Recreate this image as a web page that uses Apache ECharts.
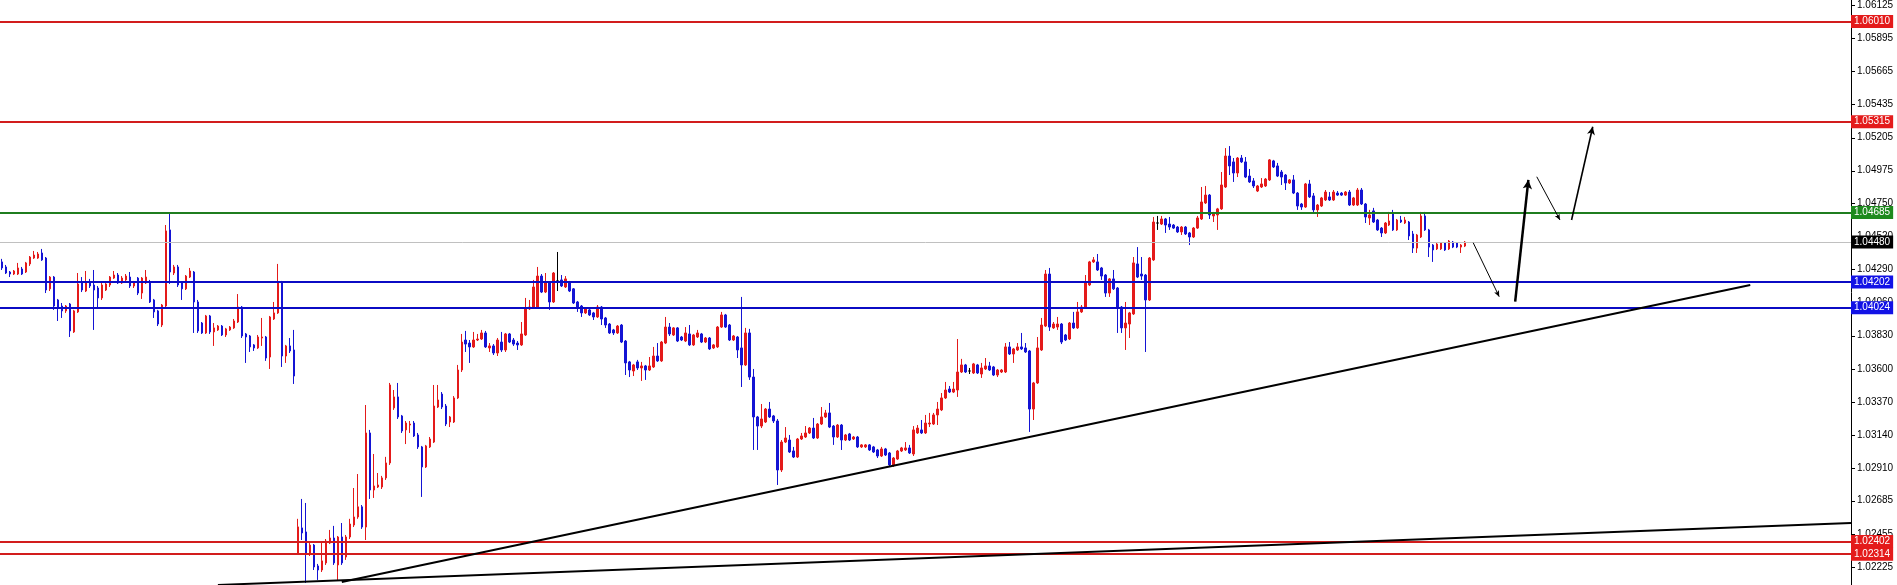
<!DOCTYPE html>
<html><head><meta charset="utf-8">
<script src="https://cdn.jsdelivr.net/npm/echarts@6/dist/echarts.min.js"></script>
<style>html,body{margin:0;padding:0;background:#fff}#c{width:1897px;height:585px}</style>
</head><body><div id="c"></div>
<script>
const opens=[1.04342,1.04307,1.04272,1.04258,1.04258,1.04293,1.04272,1.04328,1.04369,1.04369,
1.04404,1.04369,1.04155,1.04237,1.04078,1.04036,1.04002,1.04050,1.03856,1.03995,
1.04196,1.04140,1.04203,1.04182,1.04161,1.04092,1.04147,1.04182,1.04230,1.04251,
1.04196,1.04217,1.04237,1.04175,1.04230,1.04126,1.04196,1.04203,1.04078,1.04002,
1.03904,1.04036,1.04564,1.04265,1.04307,1.04196,1.04155,1.04237,1.04272,1.04064,
1.03918,1.03849,1.03967,1.03856,1.03870,1.03897,1.03835,1.03870,1.03884,1.03925,
1.04029,1.03842,1.03828,1.03766,1.03745,1.03814,1.03821,1.03682,1.03946,1.03988,
1.04203,1.03689,1.03759,1.03731,1.02322,1.02496,1.02468,1.02315,1.02377,1.02232,
1.02204,1.02253,1.02391,1.02426,1.02239,1.02433,1.02294,1.02433,1.02516,1.02572,
1.02642,1.02502,1.03155,1.02759,1.02780,1.02780,1.02843,1.02947,1.03329,1.03405,
1.03273,1.03176,1.03210,1.03224,1.03141,1.03058,1.02919,1.03058,1.03092,1.03335,
1.03425,1.03342,1.03231,1.03231,1.03398,1.03592,1.03800,1.03779,1.03752,1.03800,
1.03807,1.03849,1.03745,1.03759,1.03710,1.03786,1.03731,1.03842,1.03800,1.03779,
1.03766,1.03835,1.04016,1.04022,1.04029,1.04244,1.04133,1.04196,1.04064,1.04210,
1.04217,1.04168,1.04196,1.04155,1.04064,1.04036,1.03988,1.04009,1.03988,1.03960,
1.04029,1.03953,1.03911,1.03870,1.03849,1.03904,1.03793,1.03648,1.03585,1.03648,
1.03606,1.03620,1.03592,1.03613,1.03689,1.03655,1.03779,1.03890,1.03835,1.03884,
1.03821,1.03793,1.03842,1.03766,1.03821,1.03842,1.03786,1.03814,1.03745,1.03752,
1.03890,1.03974,1.03904,1.03800,1.03821,1.03745,1.03627,1.03849,1.03543,1.03266,
1.03203,1.03231,1.03321,1.03273,1.03238,1.02898,1.03092,1.03106,1.03030,1.02988,
1.03113,1.03127,1.03155,1.03189,1.03120,1.03217,1.03266,1.03294,1.03203,1.03127,
1.03210,1.03106,1.03148,1.03113,1.03127,1.03058,1.03058,1.03072,1.03058,1.03037,
1.02995,1.03044,1.03016,1.02933,1.02974,1.03030,1.03037,1.03051,1.03009,1.03155,
1.03176,1.03155,1.03217,1.03217,1.03280,1.03315,1.03398,1.03460,1.03439,1.03453,
1.03578,1.03627,1.03585,1.03571,1.03627,1.03564,1.03599,1.03620,1.03613,1.03557,
1.03578,1.03578,1.03752,1.03703,1.03731,1.03752,1.03745,1.03724,1.03321,1.03502,
1.03731,1.03897,1.04258,1.03884,1.03890,1.03911,1.03835,1.03807,1.03918,1.03884,
1.03995,1.04029,1.04182,1.04342,1.04342,1.04300,1.04251,1.04126,1.04224,1.04161,
1.04029,1.03884,1.03911,1.03981,1.04328,1.04258,1.04251,1.04078,1.04356,1.04612,
1.04605,1.04640,1.04605,1.04598,1.04584,1.04550,1.04584,1.04543,1.04515,1.04577,
1.04640,1.04751,1.04806,1.04661,1.04668,1.04710,1.04862,1.05077,1.05036,1.04959,
1.05063,1.05036,1.04938,1.04904,1.04834,1.04862,1.04869,1.04911,1.05043,1.05008,
1.04966,1.04945,1.04890,1.04911,1.04820,1.04744,1.04723,1.04883,1.04800,1.04703,
1.04730,1.04772,1.04793,1.04772,1.04820,1.04820,1.04806,1.04827,1.04737,1.04737,
1.04841,1.04744,1.04647,1.04696,1.04633,1.04577,1.04543,1.04598,1.04682,1.04564,
1.04633,1.04612,1.04619,1.04536,1.04438,1.04515,1.04661,1.04564,1.04459,1.04432,
1.04432,1.04473,1.04432,1.04480,1.04473,1.04445,1.04452];
const closes=[1.04300,1.04265,1.04258,1.04279,1.04300,1.04258,1.04335,1.04376,1.04390,1.04397,
1.04356,1.04147,1.04237,1.04036,1.04029,1.04002,1.04036,1.03863,1.04002,1.04189,
1.04147,1.04203,1.04175,1.04147,1.04092,1.04182,1.04189,1.04237,1.04251,1.04196,
1.04230,1.04244,1.04175,1.04196,1.04126,1.04230,1.04237,1.04064,1.03995,1.03911,
1.04043,1.04557,1.04272,1.04307,1.04182,1.04155,1.04244,1.04279,1.04064,1.03863,
1.03849,1.03967,1.03856,1.03884,1.03897,1.03835,1.03877,1.03890,1.03932,1.04029,
1.03828,1.03821,1.03752,1.03745,1.03821,1.03821,1.03675,1.03960,1.03988,1.04203,
1.03689,1.03759,1.03724,1.03550,1.02503,1.02461,1.02315,1.02377,1.02225,1.02204,
1.02267,1.02405,1.02426,1.02253,1.02433,1.02253,1.02433,1.02523,1.02572,1.02642,
1.02502,1.03155,1.02759,1.02787,1.02794,1.02843,1.02947,1.03488,1.03405,1.03266,
1.03169,1.03224,1.03217,1.03134,1.03058,1.02919,1.03065,1.03113,1.03342,1.03384,
1.03335,1.03217,1.03266,1.03398,1.03592,1.03786,1.03772,1.03752,1.03800,1.03807,
1.03849,1.03752,1.03759,1.03710,1.03800,1.03731,1.03842,1.03786,1.03772,1.03766,
1.03842,1.04022,1.04029,1.04168,1.04244,1.04133,1.04196,1.04064,1.04265,1.04210,
1.04175,1.04224,1.04140,1.04057,1.04029,1.03988,1.04016,1.03974,1.03960,1.04029,
1.03946,1.03904,1.03849,1.03849,1.03897,1.03786,1.03641,1.03592,1.03627,1.03606,
1.03620,1.03592,1.03620,1.03689,1.03655,1.03786,1.03890,1.03842,1.03884,1.03793,
1.03800,1.03849,1.03766,1.03835,1.03849,1.03786,1.03814,1.03738,1.03766,1.03890,
1.03974,1.03890,1.03800,1.03828,1.03731,1.03627,1.03849,1.03543,1.03266,1.03203,
1.03252,1.03321,1.03266,1.03238,1.02898,1.03092,1.03120,1.03023,1.02988,1.03113,
1.03134,1.03155,1.03189,1.03120,1.03217,1.03266,1.03294,1.03196,1.03127,1.03210,
1.03106,1.03141,1.03106,1.03127,1.03058,1.03072,1.03072,1.03037,1.03023,1.02995,
1.03044,1.03002,1.02933,1.02981,1.03030,1.03051,1.03051,1.03016,1.03176,1.03189,
1.03155,1.03224,1.03224,1.03280,1.03321,1.03398,1.03453,1.03439,1.03460,1.03578,
1.03627,1.03578,1.03585,1.03634,1.03571,1.03606,1.03620,1.03592,1.03557,1.03592,
1.03592,1.03752,1.03703,1.03738,1.03752,1.03738,1.03717,1.03321,1.03502,1.03745,
1.03904,1.04258,1.03890,1.03911,1.03911,1.03786,1.03800,1.03918,1.03884,1.03995,
1.04029,1.04196,1.04342,1.04356,1.04286,1.04244,1.04126,1.04224,1.04155,1.04022,
1.03884,1.03918,1.03988,1.04335,1.04237,1.04244,1.04078,1.04369,1.04619,1.04612,
1.04640,1.04598,1.04584,1.04577,1.04550,1.04584,1.04536,1.04515,1.04577,1.04647,
1.04758,1.04806,1.04668,1.04675,1.04710,1.04876,1.05077,1.05008,1.04959,1.05063,
1.05036,1.04931,1.04897,1.04869,1.04869,1.04883,1.04917,1.05050,1.05001,1.04938,
1.04931,1.04890,1.04911,1.04820,1.04730,1.04723,1.04883,1.04793,1.04703,1.04737,
1.04786,1.04827,1.04772,1.04827,1.04806,1.04806,1.04827,1.04737,1.04786,1.04841,
1.04744,1.04654,1.04668,1.04619,1.04564,1.04543,1.04612,1.04626,1.04564,1.04633,
1.04619,1.04633,1.04522,1.04438,1.04529,1.04661,1.04564,1.04445,1.04425,1.04466,
1.04473,1.04425,1.04487,1.04445,1.04445,1.04459,1.04480];
const lows=[1.04286,1.04258,1.04237,1.04251,1.04251,1.04251,1.04265,1.04314,1.04363,1.04363,
1.04349,1.04126,1.04140,1.04009,1.03932,1.03953,1.03988,1.03821,1.03849,1.03988,
1.04133,1.04133,1.04161,1.03870,1.04029,1.04078,1.04140,1.04168,1.04224,1.04189,
1.04189,1.04210,1.04161,1.04161,1.04112,1.04085,1.04189,1.04057,1.03953,1.03897,
1.03890,1.04029,1.04189,1.04251,1.04168,1.04078,1.04147,1.04230,1.03849,1.03849,
1.03842,1.03842,1.03842,1.03759,1.03863,1.03828,1.03821,1.03863,1.03877,1.03918,
1.03814,1.03641,1.03717,1.03724,1.03738,1.03759,1.03655,1.03599,1.03939,1.03981,
1.03613,1.03641,1.03710,1.03495,1.02308,1.02412,1.02114,1.02301,1.02204,1.02135,
1.02190,1.02239,1.02384,1.02239,1.02135,1.02239,1.02274,1.02419,1.02502,1.02559,
1.02489,1.02412,1.02697,1.02704,1.02773,1.02766,1.02829,1.02933,1.03315,1.03252,
1.03155,1.03078,1.03155,1.03127,1.03044,1.02711,1.02912,1.03051,1.03085,1.03328,
1.03321,1.03203,1.03196,1.03224,1.03391,1.03578,1.03717,1.03641,1.03745,1.03793,
1.03800,1.03745,1.03717,1.03696,1.03689,1.03717,1.03717,1.03779,1.03759,1.03731,
1.03759,1.03828,1.04009,1.04016,1.04022,1.04126,1.04126,1.04009,1.04057,1.04140,
1.04168,1.04161,1.04133,1.04050,1.03995,1.03960,1.03981,1.03967,1.03939,1.03953,
1.03904,1.03884,1.03842,1.03835,1.03842,1.03779,1.03557,1.03543,1.03550,1.03592,
1.03516,1.03523,1.03585,1.03606,1.03648,1.03648,1.03772,1.03828,1.03828,1.03786,
1.03793,1.03786,1.03759,1.03759,1.03814,1.03779,1.03779,1.03731,1.03738,1.03745,
1.03884,1.03884,1.03793,1.03793,1.03675,1.03474,1.03620,1.03523,1.03037,1.03037,
1.03189,1.03224,1.03259,1.03224,1.02794,1.02884,1.03085,1.03016,1.02981,1.02981,
1.03106,1.03120,1.03148,1.03113,1.03113,1.03210,1.03259,1.03189,1.03072,1.03120,
1.03037,1.03099,1.03099,1.03106,1.03051,1.03051,1.03051,1.03030,1.03016,1.02981,
1.02988,1.02995,1.02919,1.02919,1.02968,1.03023,1.03030,1.03009,1.02995,1.03148,
1.03148,1.03148,1.03196,1.03210,1.03210,1.03307,1.03391,1.03432,1.03432,1.03405,
1.03571,1.03571,1.03564,1.03564,1.03564,1.03537,1.03592,1.03585,1.03550,1.03543,
1.03571,1.03571,1.03696,1.03641,1.03724,1.03731,1.03710,1.03162,1.03245,1.03495,
1.03724,1.03890,1.03863,1.03877,1.03870,1.03772,1.03793,1.03800,1.03877,1.03877,
1.03988,1.04022,1.04175,1.04335,1.04279,1.04217,1.04099,1.04099,1.04147,1.03849,
1.03849,1.03731,1.03814,1.03974,1.04230,1.04217,1.03717,1.04071,1.04349,1.04564,
1.04598,1.04543,1.04564,1.04571,1.04543,1.04529,1.04529,1.04459,1.04508,1.04571,
1.04633,1.04744,1.04640,1.04619,1.04564,1.04703,1.04855,1.04945,1.04897,1.04931,
1.05029,1.04924,1.04890,1.04855,1.04827,1.04855,1.04862,1.04904,1.04994,1.04931,
1.04876,1.04841,1.04883,1.04813,1.04703,1.04703,1.04717,1.04786,1.04682,1.04654,
1.04723,1.04765,1.04765,1.04765,1.04800,1.04800,1.04800,1.04730,1.04730,1.04730,
1.04737,1.04612,1.04598,1.04612,1.04557,1.04515,1.04536,1.04591,1.04557,1.04557,
1.04612,1.04605,1.04494,1.04404,1.04404,1.04508,1.04557,1.04376,1.04342,1.04425,
1.04425,1.04418,1.04425,1.04438,1.04438,1.04404,1.04445];
const highs=[1.04363,1.04321,1.04279,1.04286,1.04335,1.04307,1.04342,1.04383,1.04418,1.04411,
1.04432,1.04376,1.04244,1.04244,1.04085,1.04057,1.04043,1.04057,1.04009,1.04265,
1.04237,1.04279,1.04224,1.04286,1.04175,1.04196,1.04203,1.04244,1.04279,1.04265,
1.04244,1.04258,1.04272,1.04210,1.04237,1.04237,1.04286,1.04217,1.04085,1.04009,
1.04050,1.04598,1.04675,1.04321,1.04321,1.04203,1.04251,1.04300,1.04279,1.04078,
1.03925,1.03974,1.03974,1.03918,1.03904,1.03904,1.03884,1.03897,1.03946,1.04119,
1.04036,1.03849,1.03835,1.03772,1.03835,1.03953,1.03828,1.03967,1.04064,1.04328,
1.04210,1.03766,1.03814,1.03870,1.02559,1.02697,1.02669,1.02391,1.02384,1.02246,
1.02391,1.02419,1.02482,1.02510,1.02440,1.02530,1.02447,1.02559,1.02773,1.02870,
1.02655,1.03349,1.03176,1.03009,1.02877,1.02857,1.02989,1.03502,1.03453,1.03502,
1.03280,1.03238,1.03238,1.03238,1.03155,1.03065,1.03072,1.03127,1.03488,1.03488,
1.03439,1.03356,1.03273,1.03411,1.03627,1.03842,1.03863,1.03800,1.03856,1.03842,
1.03870,1.03863,1.03779,1.03772,1.03814,1.03856,1.03849,1.03849,1.03814,1.03793,
1.03925,1.04092,1.04078,1.04217,1.04307,1.04258,1.04265,1.04203,1.04272,1.04411,
1.04251,1.04244,1.04210,1.04161,1.04071,1.04043,1.04022,1.04022,1.03995,1.04043,
1.04036,1.03960,1.03918,1.03877,1.03904,1.03911,1.03800,1.03655,1.03634,1.03662,
1.03648,1.03627,1.03682,1.03752,1.03779,1.03793,1.03960,1.03918,1.03890,1.03890,
1.03828,1.03890,1.03904,1.03842,1.03870,1.03849,1.03821,1.03821,1.03772,1.03897,
1.03995,1.03981,1.03911,1.03835,1.03828,1.04099,1.03884,1.03877,1.03599,1.03273,
1.03356,1.03328,1.03370,1.03280,1.03252,1.03106,1.03196,1.03141,1.03058,1.03120,
1.03155,1.03203,1.03196,1.03259,1.03224,1.03335,1.03315,1.03363,1.03210,1.03217,
1.03217,1.03148,1.03155,1.03134,1.03134,1.03078,1.03078,1.03078,1.03065,1.03044,
1.03058,1.03051,1.03023,1.02988,1.03037,1.03058,1.03092,1.03072,1.03203,1.03210,
1.03245,1.03280,1.03294,1.03294,1.03370,1.03432,1.03509,1.03481,1.03509,1.03807,
1.03669,1.03634,1.03606,1.03641,1.03634,1.03641,1.03675,1.03648,1.03620,1.03599,
1.03599,1.03779,1.03786,1.03745,1.03779,1.03849,1.03779,1.03731,1.03509,1.03821,
1.03953,1.04286,1.04300,1.03925,1.03960,1.03918,1.03842,1.03925,1.03995,1.04064,
1.04043,1.04251,1.04349,1.04376,1.04397,1.04307,1.04258,1.04230,1.04286,1.04168,
1.04036,1.04064,1.03995,1.04376,1.04445,1.04376,1.04258,1.04376,1.04654,1.04661,
1.04661,1.04647,1.04654,1.04605,1.04591,1.04591,1.04591,1.04550,1.04584,1.04661,
1.04862,1.04869,1.04813,1.04689,1.04717,1.04966,1.05132,1.05146,1.05063,1.05070,
1.05084,1.05070,1.04987,1.04924,1.04876,1.04924,1.04924,1.05056,1.05050,1.05029,
1.04980,1.04952,1.04917,1.04945,1.04827,1.04751,1.04890,1.04911,1.04820,1.04744,
1.04793,1.04841,1.04827,1.04841,1.04834,1.04827,1.04834,1.04841,1.04793,1.04855,
1.04855,1.04751,1.04703,1.04717,1.04640,1.04584,1.04619,1.04689,1.04703,1.04640,
1.04661,1.04654,1.04626,1.04557,1.04536,1.04689,1.04689,1.04571,1.04466,1.04473,
1.04480,1.04480,1.04494,1.04487,1.04480,1.04466,1.04487];

const tickLabels=[1.06125,1.05895,1.05665,1.05435,1.05205,1.04975,1.04750,1.04520,1.04290,1.04060,1.03830,1.03600,1.03370,1.03140,1.02910,1.02685,1.02455,1.02225];
const levelPrices=[1.06010,1.05315,1.04685,1.04202,1.04024,1.02402,1.02314];
const levelKinds=['red','red','green','blue','blue','red','red'];
const currentPrice=1.04480;
const totalSlots=463;
const trendLowerA=[[54.0,1.02100],[462.5,1.02530]];
const trendUpperA=[[85.0,1.02121],[437.3,1.04182]];
const arrowsThin=[[[368.0,1.04475],[374.5,1.04101]],[[383.9,1.04933],[389.7,1.04633]]];
const arrowsThick=[[[378.5,1.04066],[381.8,1.04911]]];
const arrowsMid=[[[392.6,1.04633],[397.9,1.05280]]];

const kindStyle={red:{line:'#d21d1d',tag:'#e41b1b'},green:{line:'#1f7d1f',tag:'#1e8a1e'},blue:{line:'#0b0bc4',tag:'#1212e6'}};
const slots=Array.from({length:totalSlots},(_,i)=>String(i));
const candleData=opens.map((o,i)=>[o,closes[i],lows[i],highs[i]]);
const fmt=v=>Number(v).toFixed(5);
const FONT='Liberation Sans, Arial, sans-serif';
const tagLabel=(bg)=>({show:true,position:'end',distance:0,formatter:p=>fmt(p.value),color:'#fff',backgroundColor:bg,padding:[2,3,1,3],fontSize:10,fontFamily:FONT});

const levelData=levelPrices.map((p,i)=>({yAxis:p,lineStyle:{color:kindStyle[levelKinds[i]].line,width:2,type:'solid'},label:tagLabel(kindStyle[levelKinds[i]].tag)}));

const arrowLine=(pairs,width,size)=>({type:'line',xAxisIndex:1,yAxisIndex:0,data:[],silent:true,z:6,
  markLine:{silent:true,animation:false,precision:5,symbol:['none','arrow'],symbolSize:size,label:{show:false},
    lineStyle:{color:'#000',width:width,type:'solid'},emphasis:{disabled:true},
    data:pairs.map(pr=>[{coord:pr[0]},{coord:pr[1]}])}});

const chart=echarts.init(document.getElementById('c'),null,{renderer:'canvas'});
chart.setOption({
  animation:false,
  backgroundColor:'#fff',
  grid:{left:0,right:46,top:0,bottom:0,containLabel:false,outerBoundsMode:'none'},
  xAxis:[
    {type:'category',data:slots,show:false,boundaryGap:true},
    {type:'value',min:-0.5,max:totalSlots-0.5,show:false}
  ],
  yAxis:{type:'value',position:'right',min:1.020998,max:1.061597,scale:true,
    splitLine:{show:false},
    axisLine:{show:true,onZero:false,lineStyle:{color:'#000',width:1}},
    axisTick:{show:false},
    axisLabel:{show:true,customValues:tickLabels,formatter:v=>fmt(v),color:'#000',fontSize:10,fontFamily:FONT,margin:6}
  },
  series:[
    {type:'line',xAxisIndex:1,yAxisIndex:0,data:[],silent:true,z:1,
      markLine:{silent:true,animation:false,precision:5,symbol:['none','none'],
        data:[{yAxis:currentPrice,lineStyle:{color:'#c0c0c0',width:1,type:'solid'},label:tagLabel('#000')}]}},
    {type:'candlestick',xAxisIndex:0,yAxisIndex:0,data:candleData,barWidth:2,z:3,silent:true,
      itemStyle:{color:'#e41a1a',color0:'#1414d4',borderColor:'#e41a1a',borderColor0:'#1414d4',borderColorDoji:'#000',borderWidth:1}},
    {type:'line',xAxisIndex:1,yAxisIndex:0,data:[],silent:true,z:4,
      markLine:{silent:true,animation:false,precision:5,symbol:['none','none'],data:levelData}},
    {type:'line',xAxisIndex:1,yAxisIndex:0,data:trendLowerA,showSymbol:false,silent:true,z:5,lineStyle:{color:'#000',width:2}},
    {type:'line',xAxisIndex:1,yAxisIndex:0,data:trendUpperA,showSymbol:false,silent:true,z:5,lineStyle:{color:'#000',width:2}},
    arrowLine(arrowsThin,1,[4,6]),
    arrowLine(arrowsThick,2.5,[7,9]),
    arrowLine(arrowsMid,1.6,[6,8])
  ]
});
// small outward tick marks on the price scale, placed through the axis scale
const axisX=1897-46;
chart.setOption({graphic:tickLabels.map(v=>{
  const y=Math.round(chart.convertToPixel({yAxisIndex:0},v))+0.5;
  return {type:'line',silent:true,z:1,shape:{x1:axisX,y1:y,x2:axisX+4,y2:y},style:{stroke:'#000',lineWidth:1}};
})});
</script></body></html>
